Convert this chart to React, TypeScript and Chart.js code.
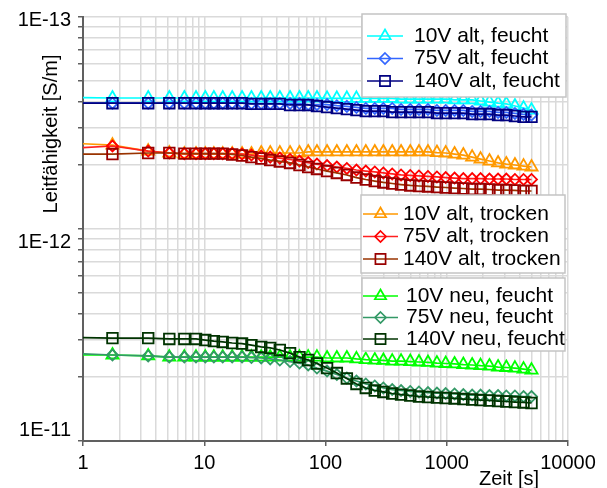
import React, { useEffect, useRef } from 'react';
import { Chart, registerables } from 'chart.js';

Chart.register(...registerables);

// Zeit [s]
const TIME_S = [
  0.9, 1.75, 3.45, 5.15, 6.85, 8.55, 10.2, 12, 14.2, 17,
  20.5, 24.5, 29.5, 35, 42, 51, 61, 72, 85, 103,
  124, 150, 180, 215, 255, 300, 355, 420, 500, 590,
  700, 830, 980, 1160, 1370, 1620, 1900, 2250, 2650, 3100,
  3650, 4300, 5000,
];

// Leitfähigkeit in units of 1E-13 S/m
const ALT_FEUCHT_10V = [
  2.40, 2.41, 2.41, 2.41, 2.41, 2.41, 2.41, 2.41, 2.41, 2.41,
  2.41, 2.41, 2.41, 2.41, 2.41, 2.41, 2.41, 2.41, 2.41, 2.42,
  2.42, 2.42, 2.42, 2.42, 2.42, 2.42, 2.42, 2.44, 2.44, 2.44,
  2.44, 2.44, 2.44, 2.46, 2.46, 2.46, 2.49, 2.52, 2.55, 2.57,
  2.63, 2.69, 2.75,
];
const ALT_FEUCHT_75V = [
  2.55, 2.55, 2.55, 2.55, 2.55, 2.55, 2.55, 2.55, 2.55, 2.55,
  2.55, 2.56, 2.56, 2.56, 2.56, 2.56, 2.56, 2.59, 2.59, 2.59,
  2.62, 2.64, 2.67, 2.70, 2.70, 2.70, 2.70, 2.73, 2.73, 2.73,
  2.73, 2.76, 2.76, 2.76, 2.76, 2.79, 2.79, 2.79, 2.82, 2.82,
  2.85, 2.88, 2.90,
];
const ALT_FEUCHT_140V = [
  2.55, 2.55, 2.55, 2.55, 2.55, 2.55, 2.55, 2.55, 2.55, 2.55,
  2.55, 2.57, 2.57, 2.57, 2.57, 2.60, 2.60, 2.60, 2.63, 2.66,
  2.69, 2.72, 2.75, 2.78, 2.78, 2.78, 2.81, 2.81, 2.81, 2.81,
  2.81, 2.84, 2.84, 2.84, 2.84, 2.87, 2.87, 2.87, 2.90, 2.90,
  2.93, 2.96, 2.96,
];
const ALT_TROCKEN_10V = [
  3.95, 4.02, 4.29, 4.38, 4.43, 4.43, 4.43, 4.43, 4.43, 4.43,
  4.43, 4.43, 4.38, 4.38, 4.38, 4.38, 4.38, 4.33, 4.33, 4.33,
  4.33, 4.33, 4.33, 4.33, 4.33, 4.33, 4.33, 4.33, 4.33, 4.33,
  4.33, 4.36, 4.38, 4.43, 4.48, 4.58, 4.68, 4.78, 4.88, 4.94,
  4.99, 5.05, 5.10,
];
const ALT_TROCKEN_75V = [
  4.15, 4.06, 4.29, 4.38, 4.41, 4.41, 4.41, 4.41, 4.41, 4.41,
  4.43, 4.48, 4.53, 4.58, 4.63, 4.70, 4.78, 4.86, 4.94, 5.02,
  5.10, 5.18, 5.27, 5.33, 5.38, 5.44, 5.50, 5.56, 5.59, 5.62,
  5.65, 5.68, 5.72, 5.75, 5.78, 5.78, 5.78, 5.81, 5.81, 5.81,
  5.84, 5.84, 5.84,
];
const ALT_TROCKEN_140V = [
  4.43, 4.43, 4.38, 4.38, 4.41, 4.41, 4.41, 4.41, 4.41, 4.45,
  4.50, 4.58, 4.65, 4.73, 4.80, 4.88, 4.99, 5.10, 5.21, 5.33,
  5.44, 5.56, 5.72, 5.84, 5.94, 6.03, 6.10, 6.17, 6.23, 6.27,
  6.30, 6.34, 6.37, 6.41, 6.44, 6.48, 6.48, 6.51, 6.55, 6.55,
  6.58, 6.62, 6.62,
];
const NEU_FEUCHT_10V = [
  39.3, 39.3, 39.7, 40.2, 40.2, 40.2, 40.2, 40.2, 40.2, 40.2,
  40.2, 40.2, 40.2, 40.2, 40.2, 40.2, 40.2, 40.2, 40.2, 40.6,
  40.6, 40.6, 41.0, 41.3, 41.5, 41.7, 42.0, 42.0, 42.2, 42.4,
  42.6, 42.9, 43.1, 43.3, 43.6, 43.8, 44.1, 44.3, 44.8, 45.0,
  45.3, 45.8, 46.3,
];
const NEU_FEUCHT_75V = [
  38.7, 39.3, 39.7, 40.2, 40.2, 40.2, 40.2, 40.2, 40.2, 40.2,
  40.2, 40.4, 40.6, 41.0, 41.5, 42.2, 42.9, 43.8, 45.3, 46.8,
  48.6, 50.5, 52.1, 53.8, 55.0, 56.2, 57.2, 57.8, 58.4, 58.7,
  59.1, 59.4, 59.7, 60.0, 60.4, 60.7, 60.7, 61.0, 61.0, 61.3,
  61.3, 61.7, 61.7,
];
const NEU_FEUCHT_140V = [
  32.5, 32.7, 32.7, 33.0, 33.0, 33.0, 33.4, 33.8, 34.1, 34.5,
  34.7, 35.3, 36.0, 36.4, 37.2, 38.5, 40.2, 41.5, 43.1, 45.3,
  47.8, 50.7, 53.8, 56.2, 57.8, 58.7, 59.7, 60.4, 61.0, 61.7,
  62.0, 62.4, 62.7, 63.0, 63.4, 63.7, 64.1, 64.4, 64.8, 65.1,
  65.5, 65.8, 66.2,
];

const VALUE_UNIT = 1e-13;

const X_TICK_VALUES = [1, 10, 100, 1000, 10000];
const X_TICK_LABELS = ['1', '10', '100', '1000', '10000'];
const Y_TICK_VALUES = [1e-13, 1e-12, 1e-11];
const Y_TICK_LABELS = ['1E-13', '1E-12', '1E-11'];
const X_TITLE = 'Zeit [s]';
const Y_TITLE = 'Leitfähigkeit [S/m]';

type Shape = 'triangle' | 'diamond' | 'square';
interface Series { label: string; values: number[]; line: string; mark: string; shape: Shape; }

const SERIES: Series[] = [
  { label: '10V alt, feucht', values: ALT_FEUCHT_10V, line: '#00FFFF', mark: '#00FFFF', shape: 'triangle' },
  { label: '75V alt, feucht', values: ALT_FEUCHT_75V, line: '#3366FF', mark: '#3366FF', shape: 'diamond' },
  { label: '140V alt, feucht', values: ALT_FEUCHT_140V, line: '#000080', mark: '#000080', shape: 'square' },
  { label: '10V alt, trocken', values: ALT_TROCKEN_10V, line: '#FF9900', mark: '#FF9900', shape: 'triangle' },
  { label: '75V alt, trocken', values: ALT_TROCKEN_75V, line: '#FF2020', mark: '#FF0000', shape: 'diamond' },
  { label: '140V alt, trocken', values: ALT_TROCKEN_140V, line: '#993300', mark: '#990000', shape: 'square' },
  { label: '10V neu, feucht', values: NEU_FEUCHT_10V, line: '#00FF00', mark: '#00FF00', shape: 'triangle' },
  { label: '75V neu, feucht', values: NEU_FEUCHT_75V, line: '#339966', mark: '#339966', shape: 'diamond' },
  { label: '140V neu, feucht', values: NEU_FEUCHT_140V, line: '#003300', mark: '#003300', shape: 'square' },
];

const LEGEND_GROUPS = [[0, 1, 2], [3, 4, 5], [6, 7, 8]];
const LEGEND_BOXES = [
  { x: 362, y: 14, w: 204, h: 83, row0: 36, dy: 22.5, l0: 367, l1: 403, tx: 414 },
  { x: 361, y: 195, w: 204, h: 78, row0: 214, dy: 22.5, l0: 363, l1: 398, tx: 403 },
  { x: 362, y: 278, w: 203, h: 73, row0: 296, dy: 21.5, l0: 363, l1: 398, tx: 406 },
];

const FONT = '"Liberation Sans", Arial, sans-serif';
const POINT_STYLE: Record<Shape, string> = { triangle: 'triangle', diamond: 'rectRot', square: 'rect' };
const POINT_R: Record<Shape, number> = { triangle: 7, diamond: 5.5, square: 7.5 };
const LEGEND_R: Record<Shape, number> = { triangle: 6.5, diamond: 5.5, square: 7.2 };

function isPow10(v: number) {
  const l = Math.log10(v);
  return Math.abs(l - Math.round(l)) < 1e-6;
}

function drawMarker(ctx: CanvasRenderingContext2D, shape: Shape, x: number, y: number, r: number) {
  ctx.beginPath();
  if (shape === 'triangle') {
    ctx.moveTo(x, y - r);
    ctx.lineTo(x + r * 0.866, y + r * 0.5);
    ctx.lineTo(x - r * 0.866, y + r * 0.5);
    ctx.closePath();
  } else if (shape === 'diamond') {
    ctx.moveTo(x, y - r);
    ctx.lineTo(x + r, y);
    ctx.lineTo(x, y + r);
    ctx.lineTo(x - r, y);
    ctx.closePath();
  } else {
    const h = r * Math.SQRT1_2;
    ctx.rect(x - h, y - h, 2 * h, 2 * h);
  }
  ctx.stroke();
}

const overlayPlugin = {
  id: 'overlay',
  afterDraw(chart: any) {
    const ctx: CanvasRenderingContext2D = chart.ctx;
    const xs = chart.scales.x;
    const ys = chart.scales.y;
    ctx.save();
    ctx.fillStyle = '#000';
    // y tick labels
    ctx.font = `20px ${FONT}`;
    ctx.textAlign = 'right';
    ctx.textBaseline = 'middle';
    const yShift = [3, 13, -11];
    Y_TICK_VALUES.forEach((v, i) => {
      ctx.fillText(Y_TICK_LABELS[i], 71, ys.getPixelForValue(v) + yShift[i]);
    });
    // x tick labels
    ctx.textAlign = 'center';
    X_TICK_VALUES.forEach((v, i) => {
      ctx.fillText(X_TICK_LABELS[i], xs.getPixelForValue(v), chart.chartArea.bottom + 22);
    });
    // axis titles
    ctx.fillText(X_TITLE, 509, 479);
    ctx.save();
    ctx.translate(51, 134);
    ctx.rotate(-Math.PI / 2);
    ctx.fillText(Y_TITLE, 0, 0);
    ctx.restore();
    // legends
    LEGEND_GROUPS.forEach((grp, gi) => {
      const b = LEGEND_BOXES[gi];
      ctx.fillStyle = '#fff';
      ctx.fillRect(b.x, b.y, b.w, b.h);
      ctx.strokeStyle = '#c4c4c4';
      ctx.lineWidth = 1.5;
      ctx.strokeRect(b.x, b.y, b.w, b.h);
      grp.forEach((si, k) => {
        const s = SERIES[si];
        const cy = b.row0 + k * b.dy;
        ctx.strokeStyle = s.line;
        ctx.lineWidth = 1.7;
        ctx.beginPath();
        ctx.moveTo(b.l0, cy);
        ctx.lineTo(b.l1, cy);
        ctx.stroke();
        ctx.strokeStyle = s.mark;
        drawMarker(ctx, s.shape, (b.l0 + b.l1) / 2, cy, LEGEND_R[s.shape]);
        ctx.fillStyle = '#000';
        ctx.font = `21px ${FONT}`;
        ctx.textAlign = 'left';
        ctx.textBaseline = 'middle';
        ctx.fillText(s.label, b.tx, cy);
      });
    });
    ctx.restore();
  },
};

export default function App() {
  const ref = useRef<HTMLCanvasElement>(null);
  useEffect(() => {
    document.body.style.margin = '0';
    const datasets = SERIES.map((s, i) => ({
      label: s.label,
      data: TIME_S.map((t, k) => ({ x: t, y: s.values[k] * VALUE_UNIT })),
      borderColor: s.line,
      borderWidth: 1.7,
      pointStyle: POINT_STYLE[s.shape],
      pointRadius: (c: any) => (c.dataIndex === 0 ? 0 : POINT_R[s.shape]),
      pointBorderColor: s.mark,
      pointBackgroundColor: 'rgba(0,0,0,0)',
      pointBorderWidth: 1.8,
      tension: 0,
      order: SERIES.length - i,
    }));
    const gridColor = '#dadada';
    const chart = new Chart(ref.current as HTMLCanvasElement, {
      type: 'line',
      data: { datasets },
      options: {
        animation: false,
        responsive: false,
        devicePixelRatio: 1,
        layout: { padding: { left: 78, right: 39, top: 17, bottom: 42 } },
        plugins: { legend: { display: false }, tooltip: { enabled: false } },
        scales: {
          x: {
            type: 'logarithmic',
            min: 1,
            max: 10000,
            afterBuildTicks: (scale: any) => {
              const t: any[] = [];
              X_TICK_VALUES.forEach((d, i) => {
                if (i === X_TICK_VALUES.length - 1) { t.push({ value: d }); return; }
                for (let k = 1; k <= 9; k++) t.push({ value: d * k });
              });
              scale.ticks = t;
            },
            ticks: { display: false },
            grid: {
              color: gridColor,
              lineWidth: 1.5,
              tickLength: 5,
              tickWidth: 1.5,
              tickColor: (c: any) => (c.tick && isPow10(c.tick.value) ? '#606060' : 'rgba(0,0,0,0)'),
            },
            border: { color: '#606060', width: 2 },
          },
          y: {
            type: 'logarithmic',
            reverse: true,
            min: 1e-13,
            max: 1e-11,
            afterBuildTicks: (scale: any) => {
              const t: any[] = [{ value: Y_TICK_VALUES[0] }];
              Y_TICK_VALUES.slice(1).forEach((d) => {
                for (let k = 9; k >= 1; k--) t.push({ value: d / k });
              });
              scale.ticks = t;
            },
            ticks: { display: false },
            grid: {
              color: gridColor,
              lineWidth: 1.5,
              tickLength: 5,
              tickWidth: 1.5,
              tickColor: '#606060',
            },
            border: { color: '#606060', width: 2 },
          },
        },
      } as any,
      plugins: [overlayPlugin],
    });
    return () => chart.destroy();
  }, []);
  return (
    <div style={{ width: 607, height: 488, background: '#fff' }}>
      <canvas ref={ref} width={607} height={488} style={{ display: 'block' }} />
    </div>
  );
}
